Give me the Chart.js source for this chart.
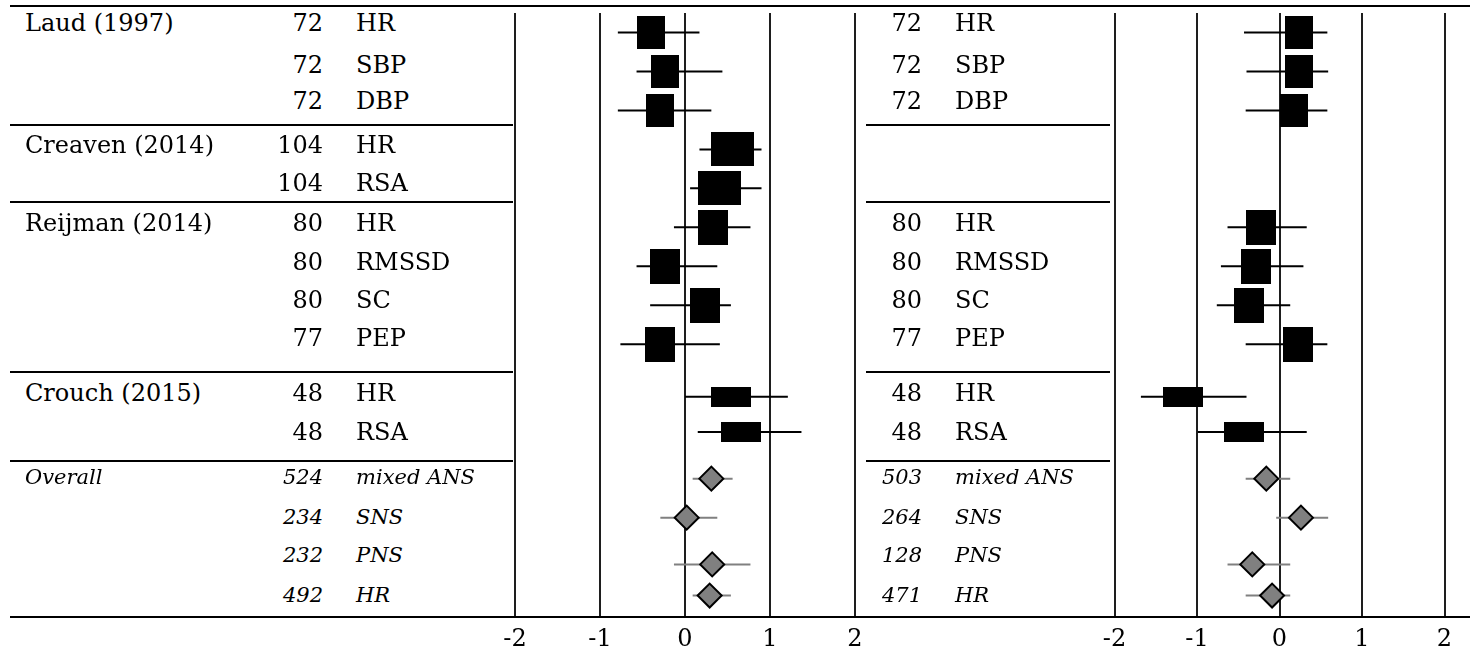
<!DOCTYPE html>
<html>
<head>
<meta charset="utf-8">
<script src="https://cdn.jsdelivr.net/npm/chart.js@4.4.1/dist/chart.umd.min.js"></script>
<style>
    html, body { margin: 0; padding: 0; background: #fff; }
    #page { position: relative; width: 1470px; height: 648px; overflow: hidden; font-family: 'DejaVu Serif', serif; color: #000; }
    .rule { position: absolute; height: 2px; background: #000; }
    .cell { position: absolute; height: 40px; line-height: 40px; font-size: 24px; white-space: nowrap; }
    .cell.it { font-style: italic; font-size: 21px; }
    .cell.num { width: 100px; text-align: right; }
    .panel { position: absolute; top: 13px; }
</style>
</head>
<body>
<div id="page">
    <div class="panel" style="left:498px"><canvas id="left-panel" width="374" height="640"></canvas></div>
    <div class="panel" style="left:1098px"><canvas id="right-panel" width="363" height="640"></canvas></div>
</div>
<script>
// rows of the forest table
const studyLabels = ['Laud (1997)', '', '', 'Creaven (2014)', '', 'Reijman (2014)', '', '', '', 'Crouch (2015)', '', 'Overall', '', '', ''];
const outcomes = ['HR', 'SBP', 'DBP', 'HR', 'RSA', 'HR', 'RMSSD', 'SC', 'PEP', 'HR', 'RSA', 'mixed ANS', 'SNS', 'PNS', 'HR'];
const nLeft = [72, 72, 72, 104, 104, 80, 80, 80, 77, 48, 48, 524, 234, 232, 492];
const nRight = [72, 72, 72, null, null, 80, 80, 80, 77, 48, 48, 503, 264, 128, 471];
const rowPos = [0, 1, 2, 3, 4, 5, 6, 7, 8, 9.35, 10.25, 11.45, 12.45, 13.65, 14.45];
const firstPooled = 11;

// left panel effect sizes with CI
const estLeft = [-0.40, -0.24, -0.30, 0.56, 0.41, 0.33, -0.23, 0.23, -0.29, 0.54, 0.66, 0.31, 0.02, 0.32, 0.29];
const loLeft = [-0.79, -0.57, -0.79, 0.17, 0.06, -0.13, -0.57, -0.41, -0.76, 0.00, 0.15, 0.09, -0.29, -0.13, 0.09];
const hiLeft = [0.17, 0.44, 0.31, 0.90, 0.90, 0.77, 0.38, 0.54, 0.41, 1.21, 1.37, 0.56, 0.38, 0.77, 0.54];

// right panel effect sizes with CI
const estRight = [0.24, 0.24, 0.17, null, null, -0.22, -0.29, -0.37, 0.22, -1.17, -0.43, -0.16, 0.26, -0.33, -0.09];
const loRight = [-0.43, -0.40, -0.41, null, null, -0.63, -0.71, -0.76, -0.41, -1.68, -0.99, -0.41, -0.04, -0.63, -0.41];
const hiRight = [0.58, 0.59, 0.58, null, null, 0.33, 0.29, 0.13, 0.58, -0.40, 0.33, 0.13, 0.59, 0.13, 0.13];

const xTicks = [-2, -1, 0, 1, 2];

// layout / style
const textY = [23, 65, 101, 145, 183, 223, 262, 300, 338, 393, 432, 477, 517, 555, 595];
const sepY = [124, 201, 371, 460];
const boxSizes = [[28, 33], [28, 33], [28, 33], [43, 34], [43, 34], [30, 35], [30, 35], [30, 35], [30, 35], [40, 20], [40, 20]];
const FONT = 'DejaVu Serif';

const page = document.getElementById('page');

function addDiv(cls, text, left, top, width) {
    const d = document.createElement('div');
    d.className = cls;
    if (text !== null) d.textContent = text;
    d.style.left = left + 'px';
    d.style.top = top + 'px';
    if (width) d.style.width = width + 'px';
    page.appendChild(d);
    return d;
}

// rules and group separators
addDiv('rule', null, 10, 5, 1460);
addDiv('rule', null, 10, 616, 1460);
sepY.forEach(y => {
    addDiv('rule', null, 10, y, 503);
    addDiv('rule', null, 866, y, 244);
});

// text columns
studyLabels.forEach((label, i) => {
    const it = i >= firstPooled ? ' it' : '';
    const top = textY[i] - 20;
    if (label) addDiv('cell' + it, label, 25, top);
    addDiv('cell num' + it, String(nLeft[i]), 223, top);
    addDiv('cell' + it, outcomes[i], 356, top);
    if (nRight[i] !== null) {
        addDiv('cell num' + it, String(nRight[i]), 822, top);
        addDiv('cell' + it, outcomes[i], 955, top);
    }
});

// solid black boxes as point images
const boxImgs = boxSizes.map(([w, h]) => {
    const c = document.createElement('canvas');
    c.width = w;
    c.height = h;
    const g = c.getContext('2d');
    g.fillStyle = '#000';
    g.fillRect(0, 0, w, h);
    return c;
});

function ciSegments(lo, hi, from, to) {
    const pts = [];
    for (let i = from; i < to; i++) {
        if (lo[i] === null) continue;
        pts.push({ x: lo[i], y: rowPos[i] }, { x: hi[i], y: rowPos[i] }, { x: null, y: null });
    }
    return pts;
}

function points(est, from, to) {
    const pts = [];
    for (let i = from; i < to; i++) {
        if (est[i] === null) continue;
        pts.push({ x: est[i], y: rowPos[i], row: i });
    }
    return pts;
}

function makePanel(canvasId, est, lo, hi) {
    const n = rowPos.length;
    return new Chart(document.getElementById(canvasId), {
        type: 'scatter',
        data: {
            datasets: [
                {
                    type: 'line',
                    data: ciSegments(lo, hi, 0, firstPooled),
                    borderColor: '#000',
                    borderWidth: 2,
                    pointRadius: 0,
                    spanGaps: false,
                    order: 3
                },
                {
                    type: 'line',
                    data: ciSegments(lo, hi, firstPooled, n),
                    borderColor: '#808080',
                    borderWidth: 2,
                    pointRadius: 0,
                    spanGaps: false,
                    order: 3
                },
                {
                    data: points(est, 0, firstPooled),
                    pointStyle: c => (c.raw ? boxImgs[c.raw.row] : 'rect'),
                    pointRadius: 5,
                    order: 1
                },
                {
                    data: points(est, firstPooled, n),
                    pointStyle: 'rectRot',
                    pointRadius: 12,
                    pointBackgroundColor: '#808080',
                    pointBorderColor: '#000',
                    pointBorderWidth: 2,
                    order: 1
                }
            ]
        },
        options: {
            responsive: false,
            animation: false,
            events: [],
            layout: { padding: 0, autoPadding: false },
            plugins: { legend: { display: false }, tooltip: { enabled: false } },
            scales: {
                x: {
                    type: 'linear',
                    min: -2.2,
                    max: 2.2,
                    afterBuildTicks: s => { s.ticks = xTicks.map(v => ({ value: v })); },
                    afterFit: s => {
                        s.height = 36;
                        s.paddingLeft = 0;
                        s.paddingRight = 0;
                    },
                    grid: { color: '#1e1e1e', lineWidth: 2, drawTicks: false },
                    border: { display: false },
                    ticks: {
                        color: '#000',
                        font: { family: FONT, size: 24 },
                        padding: 8,
                        maxRotation: 0,
                        autoSkip: false,
                        callback: v => String(v)
                    }
                },
                y: {
                    type: 'linear',
                    display: false,
                    reverse: true,
                    min: -0.5,
                    max: 15
                }
            }
        }
    });
}

makePanel('left-panel', estLeft, loLeft, hiLeft);
makePanel('right-panel', estRight, loRight, hiRight);
</script>
</body>
</html>
